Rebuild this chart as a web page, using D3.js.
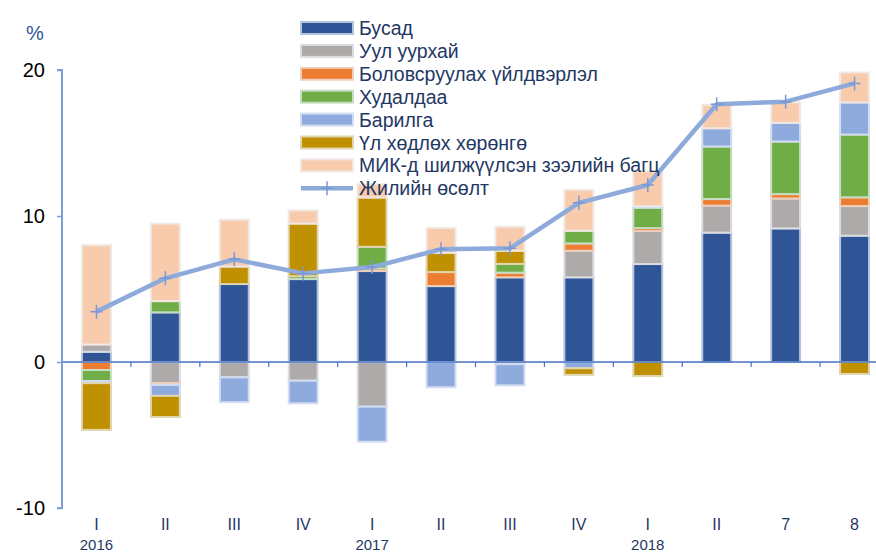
<!DOCTYPE html>
<html>
<head>
    <meta charset="UTF-8">
    <title>Growth contributions</title>
    <script src="https://cdn.jsdelivr.net/npm/d3@7"></script>
    <style>
        body { margin: 0; background: #fff; }
        svg { display: block; font-family: "Liberation Sans", Arial, sans-serif; }
        .cat { font-family: "Liberation Sans Narrow", "Liberation Sans", Arial, sans-serif; }
    </style>
</head>
<body>
<svg id="chart" width="876" height="553"></svg>
<script>

    // Category labels along the x axis, and the years written under them
    var categories = ["I", "II", "III", "IV", "I", "II", "III", "IV", "I", "II", "7", "8"];
    var yearLabels = ["2016", "2017", "2018"];
    var yearAt = [0, 4, 8];

    // Series names (legend order) and their contributions, percentage points
    var seriesNames = ["Бусад", "Уул уурхай", "Боловсруулах үйлдвэрлэл", "Худалдаа",
        "Барилга", "Үл хөдлөх хөрөнгө", "МИК-д шилжүүлсэн зээлийн багц"];
    var busad   = [0.7, 3.4, 5.34, 5.68, 6.23, 5.2, 5.8, 5.8, 6.71, 8.86, 9.15, 8.65];
    var uul     = [0.5, -1.45, -1.05, -1.28, -3.06, 0, -0.15, 1.82, 2.26, 1.85, 2.05, 2.03];
    var bolov   = [-0.55, -0.12, 0, 0, 0.18, 0.96, 0.32, 0.5, 0.2, 0.45, 0.3, 0.6];
    var hud     = [-0.75, 0.77, 0, 0.2, 1.48, 0, 0.6, 0.87, 1.4, 3.6, 3.6, 4.3];
    var barilga = [-0.15, -0.75, -1.7, -1.55, -2.4, -1.73, -1.45, -0.43, 0.1, 1.25, 1.28, 2.2];
    var ulHud   = [-3.2, -1.45, 1.2, 3.6, 3.38, 1.32, 0.9, -0.45, -0.96, 0, 0, -0.82];
    var mik     = [6.8, 5.3, 3.2, 0.9, 0.9, 1.7, 1.64, 2.8, 2.4, 1.6, 1.41, 2.05];

    // Annual growth line
    var lineName = "Жилийн өсөлт";
    var growth = [3.45, 5.73, 7.03, 6.07, 6.5, 7.72, 7.79, 10.9, 12.12, 17.65, 17.83, 19.08];

    var yTicks = [-10, 0, 10, 20];

    var colors = ["#2f5597", "#aeaaaa", "#ed7d31", "#70ad47", "#8faadc", "#bf9000", "#f8cbad"];
    var lineColor = "#8eaadb";
    var textColor = "#1f3864";

    var seriesValues = [busad, uul, bolov, hud, barilga, ulHud, mik];

    // rows for d3.stack
    var rows = categories.map(function (c, i) {
        var r = {index: i};
        seriesNames.forEach(function (name, s) {
            r[name] = seriesValues[s][i];
        });
        return r;
    });

    var svg = d3.select("#chart");

    var x = d3.scaleBand()
        .domain(d3.range(categories.length))
        .range([62, 889])
        .paddingInner(0.58)
        .paddingOuter(0.29);

    var y = d3.scaleLinear().domain([-10, 20]).range([508, 70]);

    var stacked = d3.stack()
        .keys(seriesNames)
        .offset(d3.stackOffsetDiverging)(rows);

    // Bars
    var groups = svg.append("g").selectAll("g")
        .data(stacked)
        .join("g")
        .attr("fill", function (d, i) { return colors[i]; })
        .attr("stroke", function (d, i) { return d3.interpolateRgb(colors[i], "#eef3fa")(0.7); })
        .attr("stroke-width", 2);

    groups.selectAll("rect")
        .data(function (d) { return d.filter(function (p) { return p[1] - p[0] !== 0; }); })
        .join("rect")
        .attr("x", function (d) { return x(d.data.index); })
        .attr("width", x.bandwidth())
        .attr("y", function (d) { return y(Math.max(d[0], d[1])); })
        .attr("height", function (d) { return Math.abs(y(d[0]) - y(d[1])); });

    // x axis at zero
    var xAxisG = svg.append("g");
    xAxisG.append("line")
        .attr("x1", 62).attr("x2", 876)
        .attr("y1", y(0)).attr("y2", y(0))
        .attr("stroke", "#4472c4").attr("stroke-width", 1.5);
    xAxisG.selectAll("line.tick")
        .data(d3.range(1, categories.length))
        .join("line")
        .attr("class", "tick")
        .attr("x1", function (i) { return x(i) - x.step() * x.paddingInner() / 2; })
        .attr("x2", function (i) { return x(i) - x.step() * x.paddingInner() / 2; })
        .attr("y1", y(0)).attr("y2", y(0) + 5)
        .attr("stroke", "#4472c4").attr("stroke-width", 1.2);

    // Category labels
    svg.append("g").selectAll("text")
        .data(categories)
        .join("text")
        .attr("class", "cat")
        .attr("x", function (d, i) { return x(i) + x.bandwidth() / 2; })
        .attr("y", 530)
        .attr("text-anchor", "middle")
        .attr("font-size", 16)
        .attr("fill", textColor)
        .text(function (d) { return d; });

    svg.append("g").selectAll("text")
        .data(yearLabels)
        .join("text")
        .attr("class", "cat")
        .attr("x", function (d, i) { return x(yearAt[i]) + x.bandwidth() / 2; })
        .attr("y", 550)
        .attr("text-anchor", "middle")
        .attr("font-size", 15)
        .attr("fill", textColor)
        .text(function (d) { return d; });

    // y axis
    var yAxis = d3.axisLeft(y).tickValues(yTicks).tickSize(5).tickPadding(12)
        .tickFormat(function (d) { return String(d); });
    var yG = svg.append("g")
        .attr("transform", "translate(62,0)")
        .call(yAxis);
    yG.select(".domain").attr("stroke", "#7f9ed8").attr("stroke-width", 2)
        .attr("d", "M-5," + y(20) + "H0V" + y(-10) + "H-5");
    yG.selectAll(".tick line").attr("stroke", "#7f9ed8").attr("stroke-width", 1.5);
    yG.selectAll(".tick text")
        .attr("font-family", "Liberation Sans, Arial, sans-serif")
        .attr("font-size", 20)
        .attr("fill", "#000");

    svg.append("text")
        .attr("x", 35).attr("y", 40)
        .attr("text-anchor", "middle")
        .attr("font-size", 20)
        .attr("fill", "#2f5597")
        .text("%");

    // Growth line with + markers
    var line = d3.line()
        .x(function (d, i) { return x(i) + x.bandwidth() / 2; })
        .y(function (d) { return y(d); });

    svg.append("path")
        .datum(growth)
        .attr("d", line)
        .attr("fill", "none")
        .attr("stroke", lineColor)
        .attr("stroke-width", 4.5)
        .attr("stroke-linejoin", "round");

    svg.append("g").selectAll("path")
        .data(growth)
        .join("path")
        .attr("transform", function (d, i) {
            return "translate(" + (x(i) + x.bandwidth() / 2) + "," + y(d) + ")";
        })
        .attr("d", "M-6,0H6M0,-7V7")
        .attr("stroke", "#7a98d4")
        .attr("stroke-width", 1.5)
        .attr("fill", "none");

    // Legend
    var legend = svg.append("g").attr("transform", "translate(301,28)");
    var rowH = 22.9;

    seriesNames.forEach(function (name, i) {
        var g = legend.append("g").attr("transform", "translate(0," + (i * rowH) + ")");
        g.append("rect")
            .attr("x", 0).attr("y", -6)
            .attr("width", 52).attr("height", 12)
            .attr("fill", colors[i])
            .attr("stroke", d3.interpolateRgb(colors[i], "#eef3fa")(0.7))
            .attr("stroke-width", 2);
        g.append("text")
            .attr("x", 58).attr("y", 7)
            .attr("font-size", 19.5)
            .attr("fill", textColor)
            .text(name);
    });

    var lg = legend.append("g").attr("transform", "translate(0," + (7 * rowH) + ")");
    lg.append("line")
        .attr("x1", 0).attr("x2", 52)
        .attr("stroke", lineColor).attr("stroke-width", 4.5);
    lg.append("path")
        .attr("transform", "translate(26,0)")
        .attr("d", "M-6,0H6M0,-7V7")
        .attr("stroke", "#7a98d4").attr("stroke-width", 1.5);
    lg.append("text")
        .attr("x", 58).attr("y", 7)
        .attr("font-size", 19.5)
        .attr("fill", textColor)
        .text(lineName);

</script>
</body>
</html>
